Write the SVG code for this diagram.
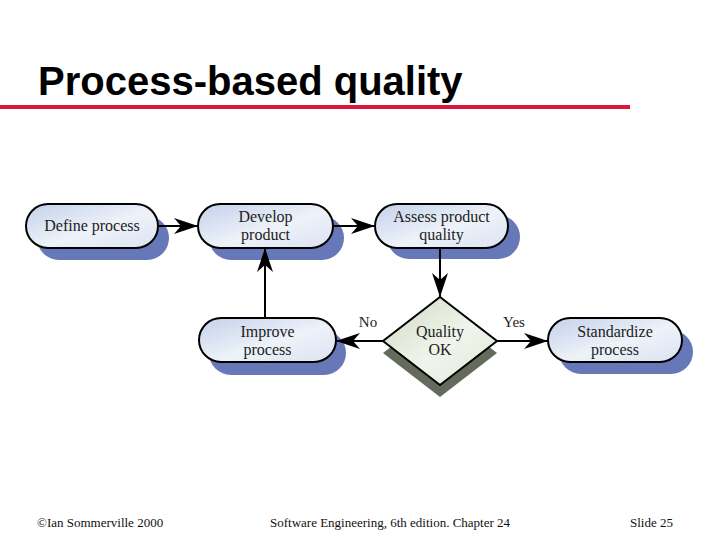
<svg xmlns="http://www.w3.org/2000/svg" width="720" height="540" viewBox="0 0 720 540">
<style>
.node{stroke:#000;stroke-width:2;fill:url(#gNode)}
.shadow{fill:#6678b8}
.dshadow{fill:#646b5c}
.diamond{stroke:#000;stroke-width:2;fill:url(#gDia)}
.lbl{font-family:"Liberation Serif","Times New Roman",serif;font-size:16px;fill:#222;text-anchor:middle}
.edge{stroke:#000;stroke-width:2;fill:none;marker-end:url(#arr)}
.elbl{font-family:"Liberation Serif","Times New Roman",serif;font-size:15px;fill:#222;text-anchor:middle}
.foot{font-family:"Liberation Serif","Times New Roman",serif;font-size:13px;fill:#111}
</style>
<defs>
<linearGradient id="gNode" x1="0" y1="0" x2="1" y2="1">
<stop offset="0" stop-color="#c3d1ea"/>
<stop offset="0.55" stop-color="#eef2f9"/>
<stop offset="1" stop-color="#dbe3f1"/>
</linearGradient>
<linearGradient id="gDia" x1="0" y1="0" x2="1" y2="1">
<stop offset="0" stop-color="#cfdac2"/>
<stop offset="0.55" stop-color="#f1f4ec"/>
<stop offset="1" stop-color="#dfe6d6"/>
</linearGradient>
<marker id="arr" viewBox="0 0 24 16" refX="24" refY="8" markerWidth="24" markerHeight="16" markerUnits="userSpaceOnUse" orient="auto">
<path d="M0,0 L24,8 L0,16 L7,8 Z" fill="#000"/>
</marker>
</defs>
<rect width="720" height="540" fill="#fff"/>
<text x="38" y="95" font-family="'Liberation Sans',Arial,sans-serif" font-weight="bold" font-size="40" fill="#000">Process-based quality</text>
<line x1="0" y1="107" x2="630" y2="107" stroke="#dc143c" stroke-width="4"/>

<g id="define-process">
<rect class="shadow" x="37" y="216" width="132" height="44" rx="22"/>
<rect class="node" x="26" y="204" width="132" height="44" rx="22"/>
<text class="lbl" x="92" y="231">Define process</text>
</g>
<g id="develop-product">
<rect class="shadow" x="209" y="216" width="135" height="44" rx="22"/>
<rect class="node" x="198" y="204" width="135" height="44" rx="22"/>
<text class="lbl" x="265.5" y="222">Develop</text>
<text class="lbl" x="265.5" y="240">product</text>
</g>
<g id="assess-product-quality">
<rect class="shadow" x="387" y="215" width="133" height="44" rx="22"/>
<rect class="node" x="375" y="204" width="133" height="44" rx="22"/>
<text class="lbl" x="441.5" y="222">Assess product</text>
<text class="lbl" x="441.5" y="240">quality</text>
</g>
<g id="improve-process">
<rect class="shadow" x="209" y="331" width="137" height="44" rx="22"/>
<rect class="node" x="199" y="318" width="137" height="44" rx="22"/>
<text class="lbl" x="267.5" y="337">Improve</text>
<text class="lbl" x="267.5" y="355">process</text>
</g>
<g id="quality-ok">
<polygon class="dshadow" points="440,309 497,353 440,397 383,353"/>
<polygon class="diamond" points="440,297 497,341 440,385 383,341"/>
<text class="lbl" x="440" y="337">Quality</text>
<text class="lbl" x="440" y="355">OK</text>
</g>
<g id="standardize-process">
<rect class="shadow" x="559" y="330" width="134" height="44" rx="22"/>
<rect class="node" x="548" y="318" width="134" height="44" rx="22"/>
<text class="lbl" x="615" y="337">Standardize</text>
<text class="lbl" x="615" y="355">process</text>
</g>

<g id="connectors">
<line class="edge" x1="158" y1="226" x2="198" y2="226"/>
<line class="edge" x1="333" y1="226" x2="375" y2="226"/>
<line class="edge" x1="440" y1="248" x2="440" y2="297"/>
<line class="edge" x1="383" y1="341" x2="336" y2="341"/>
<line class="edge" x1="497" y1="341" x2="548" y2="341"/>
<line class="edge" x1="265" y1="318" x2="265" y2="248"/>
<text class="elbl" x="368" y="327">No</text>
<text class="elbl" x="514" y="327">Yes</text>
</g>

<text class="foot" x="37" y="527">©Ian Sommerville 2000</text>
<text class="foot" x="270" y="527">Software Engineering, 6th edition. Chapter 24</text>
<text class="foot" x="630" y="527">Slide 25</text>
</svg>
